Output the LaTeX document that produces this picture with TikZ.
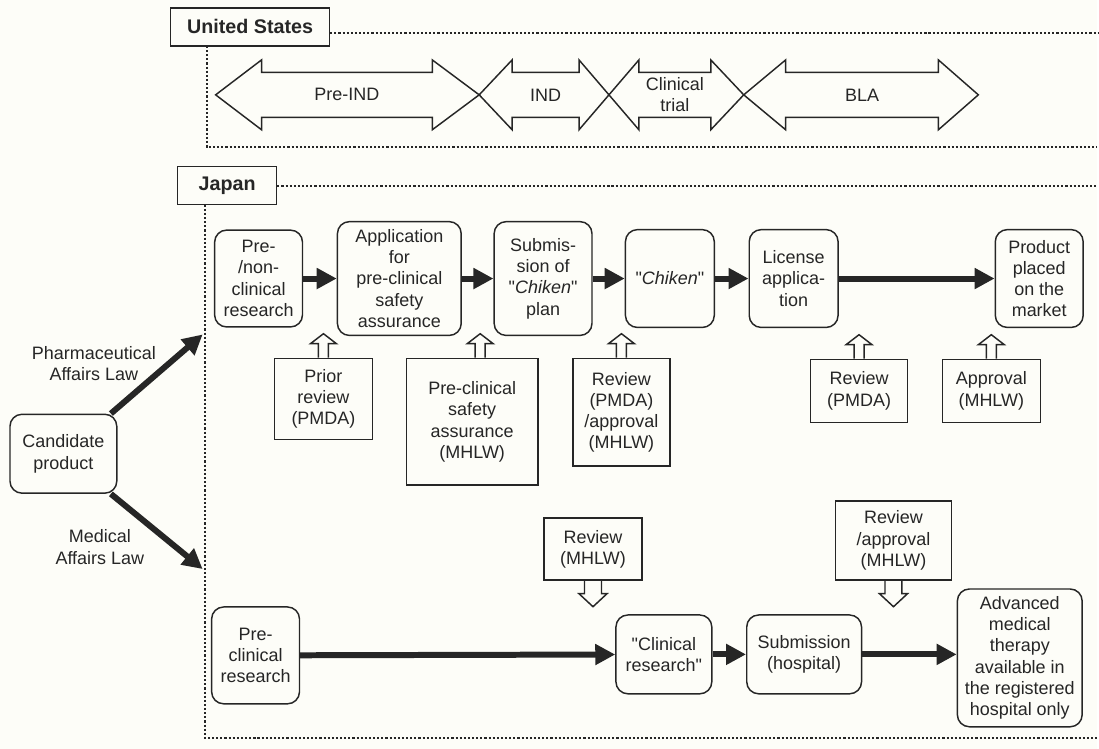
\documentclass[tikz,border=0pt]{standalone}
\usepackage{fontspec}
\setmainfont{Liberation Sans}
\usetikzlibrary{arrows.meta}
\definecolor{paper}{RGB}{253,253,248}
\definecolor{ink}{RGB}{38,38,38}

\begin{document}
\begin{tikzpicture}[
    x=0.75pt, y=-0.75pt,
    txt/.style={font=\fontsize{13.5}{16}\selectfont, text=ink},
    stage/.style={txt, rectangle, draw=ink, rounded corners=9pt, line width=1.1pt, align=center, inner sep=1pt},
    note/.style={txt, rectangle, draw=ink, line width=1.1pt, align=center, inner sep=1pt},
    region/.style={rectangle, draw=ink, line width=1.1pt, text=ink, font=\fontsize{14.8}{17}\selectfont\bfseries},
    arrow/.style={-{Triangle[length=15pt,width=15pt]}, line width=4.5pt, draw=ink},
    frame/.style={line width=1.7pt, draw=ink, dash pattern=on 1.6pt off 1.5pt},
    upmark/.pic={\draw[line width=1.1pt, draw=ink] (-5,0) -- (-5,-14) -- (-13,-14) -- (0,-24) -- (13,-14) -- (5,-14) -- (5,0);},
    downmark/.pic={\draw[line width=1.1pt, draw=ink] (-8.5,0) -- (-8.5,13) -- (-14,13) -- (0,26) -- (14,13) -- (8.5,13) -- (8.5,0);}
  ]
    \fill[paper] (0,0) rectangle (1099,750);

    % United States
    \node[region, minimum width=119.25pt, minimum height=28.5pt] (us) at (250.5,27) {United States};
    \draw[frame] ([yshift=-4.5pt]us.east) -- ++(769,0);
    \draw[frame] (207,46) |- (1099,147);
    \foreach \xa/\xb/\xc/\xd/\lab/\nm in {216/262/433/480/Pre-IND/preind, 480/513/580/610/IND/ind, 610/640/712/745/{Clinical\\trial}/clin, 745/787/940/980/BLA/bla}{
      \draw[line width=1.1pt, draw=ink] (\xa,95) -- (\xb,60) -- (\xb,72.5) -- (\xc,72.5) -- (\xc,60) -- (\xd,95)
        -- (\xc,130) -- (\xc,117.5) -- (\xb,117.5) -- (\xb,130) -- cycle;
      \node[txt, align=center] (\nm) at ({(\xb+\xc)/2},95) {\lab};
    }

    % Japan
    \node[region, minimum width=74.25pt, minimum height=28.5pt] (jp) at (227.5,186) {Japan};
    \draw[frame] (jp.east) -- (1099,186);
    \draw[frame] (205,205) |- (1099,739);

    % Pharmaceutical Affairs Law route
    \node[stage, minimum width=66pt, minimum height=72.75pt] (prenon) at (259,279) {Pre-\\/non-\\clinical\\research};
    \node[stage, minimum width=93pt, minimum height=85.5pt] (appl) at (400,279) {Application\\for\\pre-clinical\\safety\\assurance};
    \node[stage, minimum width=73.5pt, minimum height=85.5pt] (subm) at (544,279) {Submis-\\sion of\\\textquotedbl\textit{Chiken}\textquotedbl\\plan};
    \node[stage, minimum width=66.75pt, minimum height=73.5pt] (chiken) at (671,279) {\textquotedbl\textit{Chiken}\textquotedbl};
    \node[stage, minimum width=66.75pt, minimum height=73.5pt] (license) at (795,279) {License\\applica-\\tion};
    \node[stage, minimum width=66pt, minimum height=73.5pt] (product) at (1041,279) {Product\\placed\\on the\\market};

    \draw[arrow] (prenon) -- (appl);
    \draw[arrow] (appl) -- (subm);
    \draw[arrow] (subm) -- (chiken);
    \draw[arrow] (chiken) -- (license);
    \draw[arrow] (license) -- (product);

    \node[note, minimum width=73.5pt, minimum height=60.75pt] (prior) at (324,399.5) {Prior\\review\\(PMDA)};
    \node[note, minimum width=99pt, minimum height=95.25pt] (pcsa) at (473,422.5) {Pre-clinical\\safety\\assurance\\(MHLW)};
    \node[note, minimum width=72.75pt, minimum height=81pt] (revapp) at (622.5,413) {Review\\(PMDA)\\/approval\\(MHLW)};
    \node[note, minimum width=72.75pt, minimum height=47.25pt] (revpmda) at (860.5,391.5) {Review\\(PMDA)};
    \node[note, minimum width=73.5pt, minimum height=47.25pt] (approval) at (993,391.5) {Approval\\(MHLW)};
    \pic at (prior.north) {upmark};
    \pic at ([xshift=6pt]pcsa.north) {upmark};
    \pic at (revapp.north) {upmark};
    \pic at (revpmda.north) {upmark};
    \pic at (approval.north) {upmark};

    % Medical Affairs Law route
    \node[stage, minimum width=66pt, minimum height=72.75pt] (precl) at (256,656.5) {Pre-\\clinical\\research};
    \node[stage, minimum width=72pt, minimum height=59.25pt] (clinres) at (665,655.5) {\textquotedbl Clinical\\research\textquotedbl};
    \node[stage, minimum width=86.25pt, minimum height=59.25pt] (subhosp) at (805.5,655.5) {Submission\\(hospital)};
    \node[stage, minimum width=93.75pt, minimum height=103.5pt] (advanced) at (1021.5,659) {Advanced\\medical\\therapy\\available in\\the registered\\hospital only};

    \draw[arrow] (precl) -- (clinres);
    \draw[arrow] (clinres) -- (subhosp);
    \draw[arrow] (subhosp.east) -- (subhosp.east -| advanced.west);

    \node[note, minimum width=73.5pt, minimum height=46.5pt] (revmhlw) at (594,550) {Review\\(MHLW)};
    \node[note, minimum width=87pt, minimum height=59.25pt] (revapp2) at (895,541.5) {Review\\/approval\\(MHLW)};
    \pic at (revmhlw.south) {downmark};
    \pic at (revapp2.south) {downmark};

    % Candidate
    \node[stage, minimum width=80.25pt, minimum height=59.25pt] (cand) at (63.5,454.5) {Candidate\\product};
    \node[txt, align=center] (pal) at (94,364) {Pharmaceutical\\Affairs Law};
    \node[txt, align=center] (mal) at (100,548) {Medical\\Affairs Law};
    \coordinate (pharm) at (203,335);
    \coordinate (med) at (203,570);
    \draw[arrow] ([xshift=-5pt]cand.north east) -- (pharm);
    \draw[arrow] ([xshift=-5pt]cand.south east) -- (med);
  \end{tikzpicture}
\end{document}
